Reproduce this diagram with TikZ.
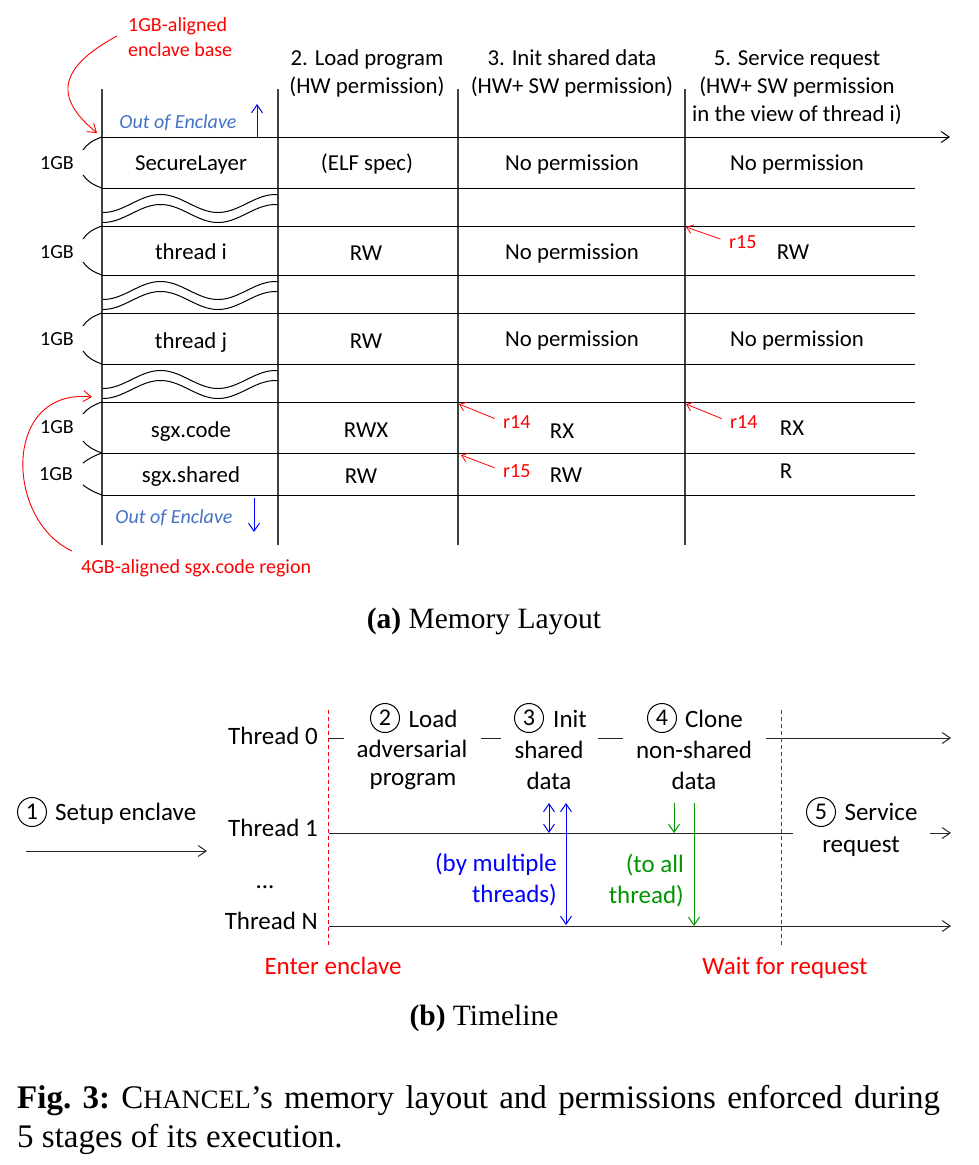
\documentclass[tikz,border=0pt]{standalone}
\usepackage{fontspec}
\setmainfont{Carlito}
\newfontfamily\serifcap{Liberation Serif}
\usetikzlibrary{arrows.meta}
\definecolor{enclblue}{RGB}{68,114,196}
\definecolor{permgreen}{RGB}{0,150,0}
\newcommand{\fs}[1]{\fontsize{#1}{#1}\selectfont}

\begin{document}
\begin{tikzpicture}[
    x=1pt, y=-1pt,
    >={Straight Barb[length=8pt,width=11pt]},
    cell/.style={
        inner sep=0pt,
        text height=14.4pt,
        text depth=0pt,
        font=\fs{22.8}
    },
    gbtext/.style={inner sep=0pt, text height=12.8pt, text depth=0pt, font=\fs{20}},
    note/.style={gbtext, text=red},
    outtext/.style={gbtext, font=\fs{20}\itshape, text=enclblue},
    regarrow/.style={-{Straight Barb[length=6pt,width=9pt]}, red, line width=0.8pt, shorten <=9pt},
    memline/.style={line width=1pt},
    colline/.style={line width=1.1pt, black!75},
    tl/.style={inner sep=0pt, text height=16pt, text depth=0pt, font=\fs{25}},
    stepnum/.style={
        circle,
        draw,
        line width=1pt,
        minimum size=29pt,
        inner sep=0pt,
        font=\fs{24}
    },
    tline/.style={line width=1pt, black!85},
    stagebar/.style={red, line width=0.8pt, dash pattern=on 4pt off 3pt},
    caption/.style={inner sep=0pt, font=\serifcap\fs{29.5}}
]
\useasboundingbox (0,0) rectangle (979,1165);

% Memory layout: columns and rows
\foreach \cx in {102,278,458,685}
    \draw[colline] (\cx,89) -- (\cx,545);
\draw[memline,->] (102,137) -- (950,137);
\foreach \ry in {188,226,275,313,364,402,453,495}
    \draw[memline] (102,\ry) -- (915,\ry);

% Gaps between regions
\foreach \m in {207,294,383}
    \foreach \d in {-3.5,6.5}
        \draw[memline, line join=round] plot[domain=103:277, samples=70] (\x, {\m+\d+9*cos(3.1304*(\x-103))});

% 1GB brackets
\foreach \t/\b/\h in {137/188/13, 226/275/13, 313/364/13, 402/453/12, 453/495/10} {
    \draw[memline] (102,\t) .. controls (93,\t+3) and (87,\t+7) .. (83,\t+\h);
    \draw[memline] (83,\b-\h) .. controls (87,\b-7) and (93,\b-3) .. (102,\b);
}
\node[gbtext] (gb1) at (57,163) {1GB};
\node[gbtext] (gb2) at (57,252) {1GB};
\node[gbtext] (gb3) at (57,339) {1GB};
\node[gbtext] (gb4) at (57,427) {1GB};
\node[gbtext] (gb5) at (56,474) {1GB};

% Regions
\node[cell] (secure) at (191,163) {SecureLayer};
\node[cell] (thri) at (191,252) {thread i};
\node[cell] (thrj) at (191,341) {thread j};
\node[cell] (code) at (191,430) {sgx.code};
\node[cell] (shared) at (191,475) {sgx.shared};

\node[outtext] (outtop) at (178,122) {Out of Enclave};
\coordinate (uptail) at (257,137);
\coordinate (uptip) at (257,104);
\draw[->, blue, line width=1pt] (uptail) -- (uptip);
\node[outtext] (outbot) at (174,517) {Out of Enclave};
\coordinate (downtail) at (254,498);
\coordinate (downtip) at (254,532);
\draw[->, blue, line width=1pt] (downtail) -- (downtip);

% Stage headers
\node[cell] (h2a) at (367,58) {2. Load program};
\node[cell] (h2b) at (367,86) {(HW permission)};
\node[cell] (h3a) at (572,58) {3. Init shared data};
\node[cell] (h3b) at (572,86) {(HW+ SW permission)};
\node[cell] (h5a) at (797,58) {5. Service request};
\node[cell] (h5b) at (797,86) {(HW+ SW permission};
\node[cell] (h5c) at (797,114) {in the view of thread i)};

% Load program
\node[cell] (elf) at (367,163) {(ELF spec)};
\node[cell] (lthri) at (366,253) {RW};
\node[cell] (lthrj) at (366,341) {RW};
\node[cell] (lcode) at (366,430) {RWX};
\node[cell] (lshared) at (361,476) {RW};

% Init shared data
\node[cell] (isecure) at (572,163) {No permission};
\node[cell] (ithri) at (572,252) {No permission};
\node[cell] (ithrj) at (572,339) {No permission};
\node[cell] (icode) at (562,431) {RX};
\node[cell] (ishared) at (566,475) {RW};
\node[note, anchor=west] (ir14) at (503,422) {r14};
\node[note, anchor=west] (ir15) at (503,471) {r15};
\coordinate (icodecorner) at (459,404);
\coordinate (isharedcorner) at (461,455);
\draw[regarrow] (ir14.west) -- (icodecorner);
\draw[regarrow] (ir15.west) -- (isharedcorner);

% Service request
\node[cell] (ssecure) at (797,163) {No permission};
\node[cell] (sthri) at (793,252) {RW};
\node[cell] (sthrj) at (797,339) {No permission};
\node[cell] (scode) at (792,428) {RX};
\node[cell] (sshared) at (786,471) {R};
\node[note, anchor=west] (sr15) at (729,242) {r15};
\node[note, anchor=west] (sr14) at (730,422) {r14};
\coordinate (sthricorner) at (686,227);
\coordinate (scodecorner) at (686,404);
\draw[regarrow] (sr15.west) -- (sthricorner);
\draw[regarrow] (sr14.west) -- (scodecorner);

% Alignment notes
\node[note, anchor=west] (basea) at (128,25) {1GB-aligned};
\node[note, anchor=west] (baseb) at (128,50) {enclave base};
\coordinate (basetail) at (117,36);
\coordinate (basetip) at (97,133);
\draw[->, red, line width=0.9pt] (basetail) .. controls (54,70) and (57,100) .. (basetip);
\node[note, anchor=west] (codealign) at (81,567) {4GB-aligned sgx.code region};
\coordinate (codetail) at (72,551);
\coordinate (codetip) at (92,397);
\draw[->, red, line width=0.9pt] (codetail) .. controls (5,520) and (2,388) .. (codetip);

\node[caption, anchor=base] (capa) at (484,628) {\textbf{(a)} Memory Layout};

% Timeline: threads
\node[tl, anchor=east] (t0) at (318,736) {Thread 0};
\node[tl, anchor=east] (t1) at (318,828) {Thread 1};
\node[tl] (tdots) at (265,880) {...};
\node[tl, anchor=east] (tn) at (318,921) {Thread N};

\draw[tline] (329,738) -- (344,738);
\draw[tline] (481,738) -- (501,738);
\draw[tline] (598,738) -- (623,738);
\draw[tline,->] (766,738) -- (951,738);
\draw[tline] (329,833) -- (793,833);
\draw[tline,->] (930,833) -- (951,833);
\draw[tline,->] (329,926) -- (951,926);

% Enter / wait
\draw[stagebar] (328,710) -- (328,947);
\draw[stagebar] (781,710) -- (781,947);
\node[tl, text=red] (enter) at (333,966) {Enter enclave};
\node[tl, text=red] (wait) at (785,966) {Wait for request};

% Stages
\node[stepnum] (n1) at (32,812) {1};
\node[tl, anchor=west] (setup) at (55,812) {Setup enclave};
\draw[tline,->] (26,851) -- (207,851);

\node[stepnum] (n2) at (385,718) {2};
\node[tl] (s2a) at (433,719) {Load};
\node[tl] (s2b) at (412,749) {adversarial};
\node[tl] (s2c) at (413,777) {program};

\node[stepnum] (n3) at (529,718) {3};
\node[tl] (s3a) at (570,719) {Init};
\node[tl] (s3b) at (549,750) {shared};
\node[tl] (s3c) at (549,781) {data};

\node[stepnum] (n4) at (662,718) {4};
\node[tl] (s4a) at (714,719) {Clone};
\node[tl] (s4b) at (694,750) {non-shared};
\node[tl] (s4c) at (694,781) {data};

\node[stepnum] (n5) at (821,812) {5};
\node[tl] (s5a) at (881,812) {Service};
\node[tl] (s5b) at (861,844) {request};

% Shared / non-shared data
\draw[<->, blue, line width=1pt] (549,803) -- (549,833);
\draw[<->, blue, line width=1pt] (566,803) -- (566,925);
\draw[->, permgreen, line width=1pt] (674,803) -- (674,833);
\draw[->, permgreen, line width=1pt] (694,803) -- (694,926);
\node[tl, text=blue, anchor=east] (bymul) at (557,863) {(by multiple};
\node[tl, text=blue, anchor=east] (bythr) at (557,894) {threads)};
\node[tl, text=permgreen, anchor=east] (toall) at (684,864) {(to all};
\node[tl, text=permgreen, anchor=east] (tothr) at (684,895) {thread)};

\node[caption, anchor=base] (capb) at (484,1025) {\textbf{(b)} Timeline};

% Figure caption
\node[inner sep=0pt, anchor=base west, font=\serifcap\fs{33}\frenchspacing] (fig1) at (17,1108)
    {\makebox[923pt][s]{\textbf{Fig. 3:} C{\fs{26.5}HANCEL}’s memory layout and permissions enforced during}};
\node[inner sep=0pt, anchor=base west, font=\serifcap\fs{33}\frenchspacing] (fig2) at (17,1147)
    {5 stages of its execution.};

\end{tikzpicture}
\end{document}
